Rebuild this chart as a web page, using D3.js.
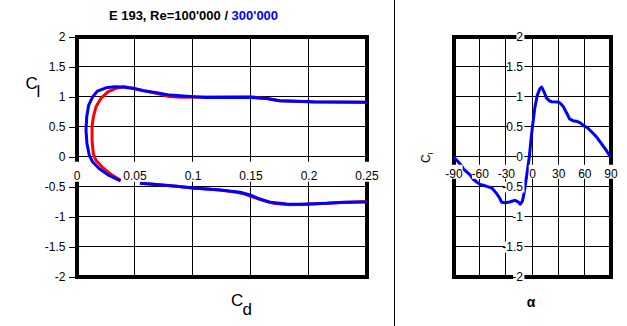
<!DOCTYPE html>
<html><head><meta charset="utf-8">
<script src="https://cdn.jsdelivr.net/npm/d3@7"></script>
<style>body{margin:0;background:#fff}svg{display:block}text{font-family:Arial,"Liberation Sans",sans-serif}</style>
</head><body><svg id="c" width="627" height="326"></svg>
<script>
// ---- data ----
const cdTicks=[0,0.05,0.1,0.15,0.2,0.25];
const clTicks=[-2,-1.5,-1,-0.5,0,0.5,1,1.5,2];
const alphaTicks=[-90,-60,-30,0,30,60,90];
const titleParts=["E 193, Re=100'000 / ","300'000"];
// Re=100'000 polar (red); null = gap
const cd100=[0.25,0.23,0.215,0.197,0.184,0.170,0.160,0.152,0.145,0.138,0.124,0.100,0.086,0.066,0.0547,null,0.038,0.031,0.0226,0.0168,0.0145,0.0134,0.0134,0.0145,0.0168,0.021,0.027,0.034,0.041,0.049,0.058,0.069,0.080,0.090,0.110,0.150,0.164,0.175,0.205,0.25];
const cl100=[-0.745,-0.76,-0.775,-0.79,-0.80,-0.775,-0.72,-0.67,-0.62,-0.59,-0.555,-0.52,-0.49,-0.458,-0.44,null,-0.39,-0.31,-0.18,-0.06,0.05,0.27,0.50,0.66,0.83,0.97,1.08,1.137,1.165,1.14,1.10,1.055,1.0,0.99,0.995,0.997,0.97,0.93,0.912,0.905];
// Re=300'000 polar (blue)
const cd300=[0.25,0.23,0.216,0.1955,0.181,0.167,0.158,0.1496,0.141,0.124,0.1007,0.0864,0.066,0.0547,null,0.038,0.028,0.0197,0.014,0.011,0.009,0.0082,0.0088,0.0105,0.014,0.018,0.0254,0.0326,0.040,0.049,0.0576,0.069,0.0806,0.095,0.111,0.150,0.164,0.175,0.204,0.25];
const cl300=[-0.752,-0.758,-0.775,-0.79,-0.786,-0.758,-0.703,-0.636,-0.59,-0.553,-0.52,-0.49,-0.458,-0.442,null,-0.40,-0.31,-0.20,-0.087,0.025,0.22,0.44,0.66,0.86,1.0,1.09,1.147,1.163,1.16,1.137,1.097,1.063,1.025,1.008,0.987,0.987,0.97,0.93,0.913,0.908];
// Cl vs alpha, Re=300'000
const alpha300=[-90,-85,-80.7,-78.7,-71,-67.7,-63.4,-59.6,-55.8,-50,-46,-40.5,-37,-34.7,-31,-27,-23,-19.5,-16,-13.5,-11,-9.2,-8,-5.2,-3.1,-1,0.5,3.4,6,9,11,13.8,16.5,20,22.6,30,33,36,40,43,47,52,55,60,63,70,75,80,85,88.6,90];
const clA300=[0,-0.08,-0.15,-0.2,-0.3,-0.37,-0.42,-0.46,-0.475,-0.50,-0.52,-0.613,-0.69,-0.758,-0.765,-0.758,-0.74,-0.725,-0.75,-0.79,-0.74,-0.613,-0.503,-0.225,0,0.3,0.5,0.83,1.02,1.13,1.16,1.08,0.98,0.93,0.915,0.91,0.88,0.83,0.72,0.63,0.60,0.585,0.567,0.51,0.49,0.39,0.31,0.21,0.11,0.03,0.0];

// ---- drawing ----
const svg=d3.select('#c');
const y=d3.scaleLinear([-2,2],[277,36.5]);
const xL=d3.scaleLinear([0,0.25],[76.5,366.5]);
const xR=d3.scaleLinear([-90,90],[453.5,610.5]);
const fmt=d=>String(d);

function grid(g,x,xt){
  g.selectAll('line.v').data(xt.slice(1,-1)).join('line').attr('class','v')
    .attr('x1',d=>x(d)).attr('x2',d=>x(d)).attr('y1',y(2)).attr('y2',y(-2))
    .attr('stroke','#000').attr('shape-rendering','crispEdges');
  g.selectAll('line.h').data(clTicks.slice(1,-1)).join('line').attr('class','h')
    .attr('y1',d=>y(d)).attr('y2',d=>y(d)).attr('x1',x.range()[0]).attr('x2',x.range()[1])
    .attr('stroke','#000').attr('shape-rendering','crispEdges');
  g.append('rect').attr('x',x.range()[0]).attr('y',y(2)).attr('width',x.range()[1]-x.range()[0])
    .attr('height',y(-2)-y(2)).attr('fill','none').attr('stroke','#000').attr('stroke-width',4)
    .attr('shape-rendering','crispEdges');
}
function curve(g,x,xs,ys,color){
  const pts=d3.zip(xs,ys);
  g.append('path').datum(pts)
    .attr('d',d3.line().defined(d=>d[0]!=null&&d[1]!=null).x(d=>x(d[0])).y(d=>y(d[1])))
    .attr('fill','none').attr('stroke',color).attr('stroke-width',3)
    .attr('stroke-linejoin','round');
}
function boxes(axisG,yTop,h,pad){
  axisG.selectAll('.tick').each(function(){
    const t=d3.select(this).select('text');
    const bb=t.node().getBBox();
    d3.select(this).insert('rect','text')
      .attr('x',bb.x-pad).attr('width',bb.width+2*pad)
      .attr('y',yTop==null?bb.y:yTop).attr('height',h==null?bb.height:h)
      .attr('fill','#fff');
  });
}

// Left panel
const gL=svg.append('g');
grid(gL,xL,cdTicks);
curve(gL,xL,cd100,cl100,'#ff0000');
curve(gL,xL,cd300,cl300,'#0000ff');
const axYL=gL.append('g').attr('transform',`translate(${xL(0)},0)`)
  .call(d3.axisLeft(y).tickValues(clTicks).tickSize(8).tickPadding(3).tickFormat(fmt));
axYL.select('.domain').remove();
const axXL=gL.append('g').attr('transform',`translate(0,${y(0)})`)
  .call(d3.axisBottom(xL).tickValues(cdTicks).tickSize(0).tickPadding(15).tickFormat(fmt));
axXL.select('.domain').remove();
boxes(axXL,5,20,1);
// Right panel
const gR=svg.append('g');
grid(gR,xR,alphaTicks);
curve(gR,xR,alpha300,clA300,'#0000ff');
const axYR=gR.append('g').attr('transform',`translate(${xR(0)},0)`)
  .call(d3.axisLeft(y).tickValues(clTicks).tickSize(0).tickPadding(9).tickFormat(fmt));
axYR.select('.domain').remove();
boxes(axYR,null,null,1);
const axXR=gR.append('g').attr('transform',`translate(0,${y(0)})`)
  .call(d3.axisBottom(xR).tickValues(alphaTicks).tickSize(0).tickPadding(13).tickFormat(fmt));
axXR.select('.domain').remove();
boxes(axXR,8,14,1);

svg.selectAll('.tick text').attr('font-size',12).attr('font-family','Arial, "Liberation Sans", sans-serif').attr('fill','#000');
svg.selectAll('.tick line').attr('stroke','#000').attr('shape-rendering','crispEdges');

// separator
svg.append('line').attr('x1',394.5).attr('x2',394.5).attr('y1',0).attr('y2',326).attr('stroke','#000').attr('shape-rendering','crispEdges');

// title
const tt=svg.append('text').attr('x',193.5).attr('y',20).attr('text-anchor','middle')
  .attr('font-size',13).attr('font-weight','bold');
tt.append('tspan').attr('fill','#000').text(titleParts[0]);
tt.append('tspan').attr('fill','#0000ff').text(titleParts[1]);

// axis titles
svg.append('text').attr('x',25.5).attr('y',88.5).attr('font-size',17).text('C');
svg.append('text').attr('x',36.5).attr('y',97).attr('font-size',17).text('l');
svg.append('text').attr('x',231).attr('y',305.5).attr('font-size',17).text('C');
svg.append('text').attr('x',242.5).attr('y',315).attr('font-size',17).text('d');
const rl=svg.append('text').attr('transform','translate(430,163) rotate(-90)').attr('font-size',12);
rl.append('tspan').text('C');
rl.append('tspan').attr('font-size',8).attr('dy',3).text('l');
svg.append('text').attr('x',531).attr('y',307).attr('text-anchor','middle').attr('font-size',14).attr('font-weight','bold').text('α');
</script></body></html>
